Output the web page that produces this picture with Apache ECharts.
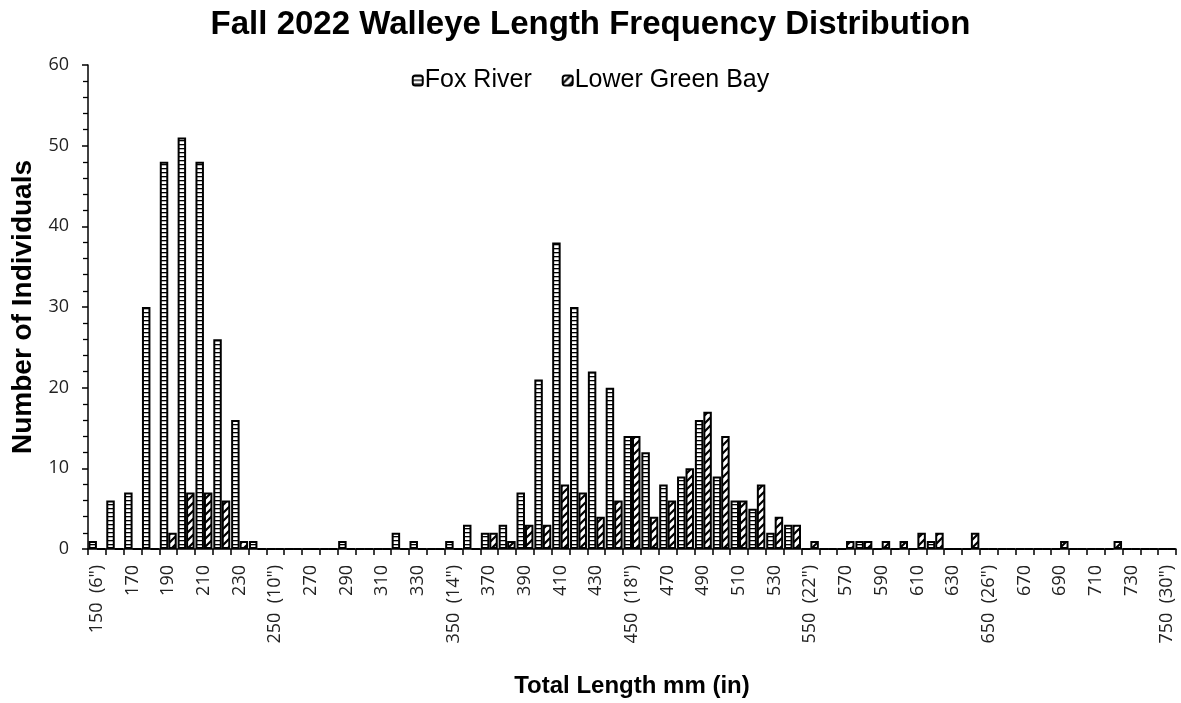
<!DOCTYPE html>
<html><head><meta charset="utf-8">
<script src="https://cdn.jsdelivr.net/npm/echarts@6/dist/echarts.min.js"></script>
<style>html,body{margin:0;padding:0;background:#fff}#c{width:1181px;height:703px}</style>
</head><body><div id="c"></div>
<script>
const categories = ['150','160','170','180','190','200','210','220','230','240',
  '250','260','270','280','290','300','310','320','330','340',
  '350','360','370','380','390','400','410','420','430','440',
  '450','460','470','480','490','500','510','520','530','540',
  '550','560','570','580','590','600','610','620','630','640',
  '650','660','670','680','690','700','710','720','730','740','750'];
const inchLabels = {'150':'6"','250':'10"','350':'14"','450':'18"','550':'22"','650':'26"','750':'30"'};
const foxRiver = [1,6,7,30,48,51,48,26,16,1, 0,0,0,0,1,0,0,2,1,0,
  1,3,2,3,7,21,38,30,22,20, 14,12,8,9,16,9,6,5,2,3,
  0,0,0,1,0,0,0,1,0,0, 0,0,0,0,0,0,0,0,0,0, 0];
const lowerGreenBay = [0,0,0,0,2,7,7,6,1,0, 0,0,0,0,0,0,0,0,0,0,
  0,0,2,1,3,3,8,7,4,6, 14,4,6,10,17,14,6,8,4,3,
  1,0,1,1,1,1,2,2,0,2, 0,0,0,0,1,0,0,1,0,0, 0];
const yTicks = [0,10,20,30,40,50,60];

function gridPattern(){
  const c=document.createElement('canvas'); c.width=4; c.height=4;
  const g=c.getContext('2d'); g.fillStyle='#fff'; g.fillRect(0,0,4,4);
  g.fillStyle='#000'; g.fillRect(0,0,4,1.3);
  return c;
}
function hatchPattern(){
  const s=8; const c=document.createElement('canvas'); c.width=s; c.height=s;
  const g=c.getContext('2d'); g.fillStyle='#fff'; g.fillRect(0,0,s,s);
  g.strokeStyle='#000'; g.lineWidth=2.2; g.lineCap='square';
  g.beginPath(); g.moveTo(-1,s+1); g.lineTo(s+1,-1);
  g.moveTo(-1,1); g.lineTo(1,-1); g.moveTo(s-1,s+1); g.lineTo(s+1,s-1); g.stroke();
  return c;
}

const chart = echarts.init(document.getElementById('c'), null, {renderer:'canvas'});
chart.setOption({
  animation:false,
  backgroundColor:'#fff',
  title:{text:'Fall 2022 Walleye Length Frequency Distribution', left:'center', top:3,
    textStyle:{fontFamily:'Liberation Sans', fontWeight:'bold', fontSize:33, color:'#000'}},
  legend:{left:'center', top:63, itemWidth:10, itemHeight:10, itemGap:30,
    textStyle:{fontFamily:'Liberation Sans', fontSize:25, color:'#000', padding:[0,0,0,-3]},
    data:['Fox River','Lower Green Bay']},
  grid:{left:88, right:5, top:65, bottom:152, containLabel:false},
  xAxis:{type:'category', data:categories, boundaryGap:true,
    name:'Total Length mm (in)', nameLocation:'middle', nameGap:125,
    nameTextStyle:{fontFamily:'Liberation Sans', fontWeight:'bold', fontSize:24, color:'#000'},
    axisLine:{lineStyle:{color:'#000', width:1.5}},
    axisTick:{show:true, interval:0, length:6, lineStyle:{color:'#000', width:1.5}},
    axisLabel:{interval:1, rotate:90, margin:16, fontFamily:'Open Sans', fontSize:18, color:'#222',
      formatter:v=> inchLabels[v] ? v+'  ('+inchLabels[v]+')' : v}},
  yAxis:{type:'value', min:0, max:60, interval:10,
    name:'Number of Individuals', nameLocation:'middle', nameGap:51,
    nameTextStyle:{fontFamily:'Liberation Sans', fontWeight:'bold', fontSize:28, color:'#000'},
    axisLine:{show:true, lineStyle:{color:'#000', width:1.5}},
    axisTick:{show:true, length:6, lineStyle:{color:'#000', width:1.5}},
    minorTick:{show:true, splitNumber:5, length:5, lineStyle:{color:'#000', width:1.3}},
    splitLine:{show:false},
    axisLabel:{margin:19, fontFamily:'Open Sans', fontSize:18, color:'#222',
      formatter:v=> yTicks.includes(v) ? String(v) : ''}},
  series:[
    {name:'Fox River', type:'bar', data:foxRiver, barGap:'0%', barCategoryGap:'5%',
      itemStyle:{color:{image:gridPattern(), repeat:'repeat'}, borderColor:'#000', borderWidth:2}},
    {name:'Lower Green Bay', type:'bar', data:lowerGreenBay, barGap:'0%', barCategoryGap:'5%',
      itemStyle:{color:{image:hatchPattern(), repeat:'repeat'}, borderColor:'#000', borderWidth:2}}
  ]
});
</script></body></html>
